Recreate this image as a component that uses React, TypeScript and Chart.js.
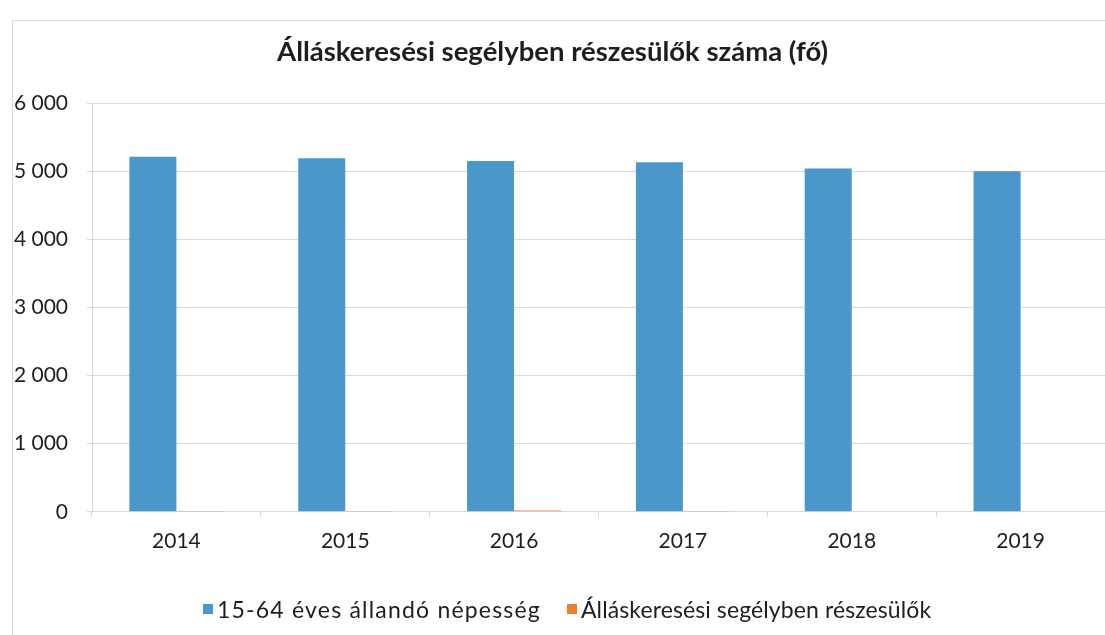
import React, { useEffect, useRef } from "react";
import { Chart, registerables } from "chart.js";

Chart.register(...registerables);

const categories = ["2014", "2015", "2016", "2017", "2018", "2019"];
const populationValues = [5210, 5190, 5150, 5130, 5040, 5000];
const jobseekerValues = [10, 12, 20, 10, 8, 8];
const seriesNames = ["15-64 éves állandó népesség", "Álláskeresési segélyben részesülők"];
const seriesColors = ["#4A97CB", "#ED7D31"];
const titleText = "Álláskeresési segélyben részesülők száma (fő)";
const yTicks = [0, 1000, 2000, 3000, 4000, 5000, 6000];

const FONT = "Lato, 'Open Sans', sans-serif";
const TEXT = "#1e1e1e";
const GRID = "#d9d9d9";

export default function App() {
  const ref = useRef<HTMLCanvasElement | null>(null);

  useEffect(() => {
    if (!ref.current) return;
    const chart = new Chart(ref.current, {
      type: "bar",
      data: {
        labels: categories,
        datasets: [
          {
            label: seriesNames[0],
            data: populationValues,
            backgroundColor: seriesColors[0],
            barPercentage: 1,
            categoryPercentage: 0.557,
          },
          {
            label: seriesNames[1],
            data: jobseekerValues,
            backgroundColor: seriesColors[1],
            barPercentage: 1,
            categoryPercentage: 0.557,
          },
        ],
      },
      options: {
        responsive: false,
        animation: false,
        devicePixelRatio: 1,
        layout: { padding: { left: 0, right: 0, top: 0, bottom: 69 } },
        plugins: {
          legend: { display: false },
          tooltip: { enabled: false },
          title: {
            display: true,
            text: titleText,
            color: TEXT,
            font: { family: FONT, size: 27.5, weight: "bold" },
            padding: { top: 36, bottom: 34 },
          },
        },
        scales: {
          x: {
            grid: {
              display: true,
              offset: true,
              drawOnChartArea: false,
              drawTicks: true,
              tickLength: 5,
              color: GRID,
            },
            border: { display: true, color: GRID },
            ticks: {
              color: TEXT,
              font: { family: FONT, size: 21 },
              padding: 12,
              maxRotation: 0,
            },
          },
          y: {
            min: 0,
            max: 6000,
            afterBuildTicks: (scale: any) => {
              scale.ticks = yTicks.map((v) => ({ value: v }));
            },
            afterFit: (scale: any) => {
              scale.width = 92;
            },
            grid: { color: GRID, tickLength: 5, drawTicks: true },
            border: { display: true, color: GRID },
            ticks: {
              color: TEXT,
              font: { family: FONT, size: 21 },
              padding: 19,
              callback: (v: any) => {
                const n = Number(v);
                return n >= 1000 ? Math.floor(n / 1000) + " " + String(n % 1000).padStart(3, "0") : String(n);
              },
            },
          },
        },
      },
    });
    return () => chart.destroy();
  }, []);

  const legendItem = (i: number, left: number, spacing: number) => (
    <div
      style={{
        position: "absolute",
        left,
        top: 595,
        height: 28,
        display: "flex",
        alignItems: "center",
        fontFamily: FONT,
        fontSize: 23,
        letterSpacing: spacing,
        color: TEXT,
        whiteSpace: "nowrap",
      }}
    >
      <span style={{ display: "inline-block", width: 10, height: 10, background: seriesColors[i], marginRight: 4 }} />
      <span>{seriesNames[i]}</span>
    </div>
  );

  return (
    <div style={{ position: "absolute", left: 0, top: 0, width: 1105, height: 635, overflow: "hidden", background: "#fff" }}>
      <div
        style={{
          position: "absolute",
          left: 12,
          top: 20,
          width: 1200,
          height: 700,
          borderLeft: "1px solid " + GRID,
          borderTop: "1px solid " + GRID,
        }}
      />
      <canvas ref={ref} width={1105} height={635} style={{ position: "absolute", left: 0, top: 0 }} />
      {legendItem(0, 203, 1.2)}
      {legendItem(1, 567, 0.1)}
    </div>
  );
}
